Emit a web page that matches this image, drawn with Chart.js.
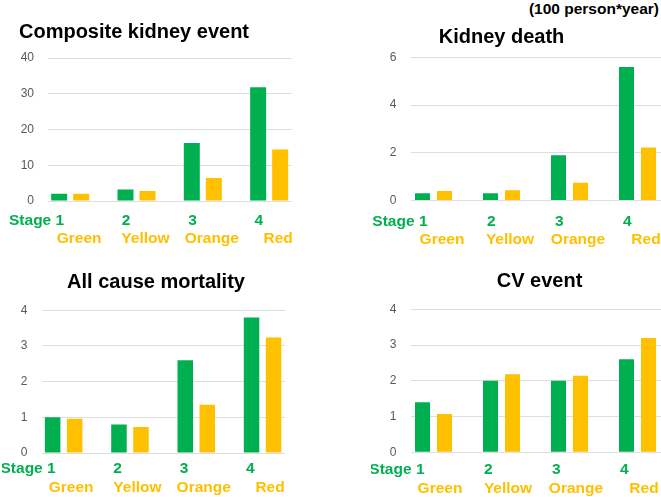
<!DOCTYPE html>
<html><head><meta charset="utf-8">
<script src="https://cdn.jsdelivr.net/npm/chart.js@4.4.1/dist/chart.umd.min.js"></script>
<style>
html,body{margin:0;padding:0;background:#fff;width:661px;height:497px;overflow:hidden;position:relative;font-family:"Liberation Sans",Arial,sans-serif;}
.wrap{position:absolute;overflow:hidden;}
.wrap canvas{position:absolute;}
#unit{position:absolute;right:2px;top:1px;font-weight:bold;font-size:15.5px;line-height:15px;color:#000;white-space:nowrap;}
</style></head><body>
<div id="unit">(100 person*year)</div>
<div class="wrap" id="w0"><canvas id="c0"></canvas></div>
<div class="wrap" id="w1"><canvas id="c1"></canvas></div>
<div class="wrap" id="w2"><canvas id="c2"></canvas></div>
<div class="wrap" id="w3"><canvas id="c3"></canvas></div>
<script>
// ---- data ----
const stageLabels = ['Stage 1', '2', '3', '4'];
const colorLabels = ['Green', 'Yellow', 'Orange', 'Red'];
const titles = ['Composite kidney event', 'Kidney death', 'All cause mortality', 'CV event'];
const compositeByStage = [2.0, 3.2, 16.2, 31.8];
const compositeByColor = [2.0, 2.8, 6.4, 14.4];
const kidneyDeathByStage = [0.3, 0.3, 1.9, 5.6];
const kidneyDeathByColor = [0.4, 0.43, 0.75, 2.22];
const mortalityByStage = [1.0, 0.8, 2.6, 3.8];
const mortalityByColor = [0.96, 0.73, 1.35, 3.24];
const cvByStage = [1.4, 2.0, 2.0, 2.6];
const cvByColor = [1.07, 2.18, 2.14, 3.2];
const yMaxes = [40, 6, 4, 4];
const ySteps = [10, 2, 1, 1];

const stageSeries = [compositeByStage, kidneyDeathByStage, mortalityByStage, cvByStage];
const colorSeries = [compositeByColor, kidneyDeathByColor, mortalityByColor, cvByColor];

// ---- styling / layout ----
const GREEN = '#00B050';
const YELLOW = '#FFC000';
const FONT = '"Liberation Sans", Arial, sans-serif';
const layouts = [
  {wrap:[0,0,292,250],   left:48,   right:313.3, top:58,    bottom:201,   tx:134,   ty:32.5, l1:220.5, l2:238.5, bar:16,   yw:95, gOff:-17, cOff:-2},
  {wrap:[300,0,361,250], left:410.5,right:682.5, top:57.5,  bottom:200.5, tx:501.5, ty:37.3, l1:221.3, l2:240,   bar:15,   yw:92, gOff:-17, cOff:-2.5},
  {wrap:[0,250,285,247], left:41.5, right:306.7, top:310.3, bottom:453,   tx:156,   ty:282,  l1:469.2, l2:487.5, bar:15.5, yw:40, gOff:-19, cOff:-3.5},
  {wrap:[300,250,361,247],left:410.5,right:682.5,top:309.3, bottom:452.3, tx:539.5, ty:281.7,l1:470,   l2:488.5, bar:15,   yw:40, gOff:-20, cOff:-4.5}
];
const LABEL_SIZE = 15.5;
const LH = LABEL_SIZE * 1.2;

layouts.forEach((L, i) => {
  const wrap = document.getElementById('w' + i);
  const [wl, wt, ww, wh] = L.wrap;
  Object.assign(wrap.style, {left: wl + 'px', top: wt + 'px', width: ww + 'px', height: wh + 'px'});

  const X0 = Math.round(L.left - L.yw);
  const yw = L.left - X0;
  const W = Math.round(2 * L.tx - 2 * X0);
  const rightW = X0 + W - L.right;
  const Y0 = Math.round(L.ty - 20);
  const padTop = L.ty - Y0 - 12;
  const padBottom = L.top - L.ty - 12;
  const h1 = (L.l1 + L.l2) / 2 - L.bottom;
  const H = Math.round(L.l2 + 16 - Y0);
  const h2 = Y0 + H - L.bottom - h1;
  const p1 = L.l1 - L.bottom - LH / 2;
  const p2 = L.l2 - L.bottom - h1 - LH / 2;

  const cv = document.getElementById('c' + i);
  cv.width = W; cv.height = H;
  Object.assign(cv.style, {left: (X0 - wl) + 'px', top: (Y0 - wt) + 'px', width: W + 'px', height: H + 'px'});

  const cw = (L.right - L.left) / 4;
  const catPct = Math.min(1, 66 / cw);
  const barPct = L.bar / 22;

  new Chart(cv, {
    type: 'bar',
    data: {
      labels: stageLabels,
      datasets: [
        {label: 'Stage', data: stageSeries[i], backgroundColor: GREEN, borderWidth: 0},
        {label: 'Color', data: colorSeries[i], backgroundColor: YELLOW, borderWidth: 0},
        {label: '', data: [null, null, null, null], backgroundColor: 'rgba(0,0,0,0)'}
      ]
    },
    options: {
      responsive: false, animation: false, devicePixelRatio: 1,
      layout: {padding: 0},
      datasets: {bar: {barPercentage: barPct, categoryPercentage: catPct}},
      plugins: {
        legend: {display: false},
        tooltip: {enabled: false},
        title: {display: true, text: titles[i], align: 'center', color: '#000',
                font: {family: FONT, size: 20, weight: 'bold'},
                padding: {top: padTop, bottom: padBottom}}
      },
      scales: {
        x: {
          type: 'category', position: 'bottom', weight: 0, offset: true,
          grid: {display: false, drawTicks: false}, border: {display: false},
          ticks: {color: GREEN, font: {family: FONT, size: LABEL_SIZE, weight: 'bold'},
                  align: 'end', labelOffset: L.gOff, padding: p1,
                  autoSkip: false, maxRotation: 0, minRotation: 0},
          afterFit: s => { s.height = h1; }
        },
        x2: {
          type: 'category', position: 'bottom', weight: 1, offset: true, labels: colorLabels,
          grid: {display: false, drawTicks: false}, border: {display: false},
          ticks: {color: YELLOW, font: {family: FONT, size: LABEL_SIZE, weight: 'bold'},
                  align: 'center', labelOffset: L.cOff, padding: p2,
                  autoSkip: false, maxRotation: 0, minRotation: 0},
          afterFit: s => { s.height = h2; }
        },
        y: {
          type: 'linear', position: 'left', min: 0, max: yMaxes[i],
          grid: {color: '#dedede', lineWidth: 1, drawTicks: false}, border: {display: false},
          ticks: {stepSize: ySteps[i], color: '#595959', padding: 14,
                  font: {family: FONT, size: 12}},
          afterFit: s => { s.width = yw; }
        },
        yR: {
          type: 'linear', position: 'right', display: true,
          grid: {display: false, drawTicks: false}, border: {display: false},
          ticks: {display: false},
          afterFit: s => { s.width = rightW; }
        }
      }
    }
  });
});
</script>
</body></html>
